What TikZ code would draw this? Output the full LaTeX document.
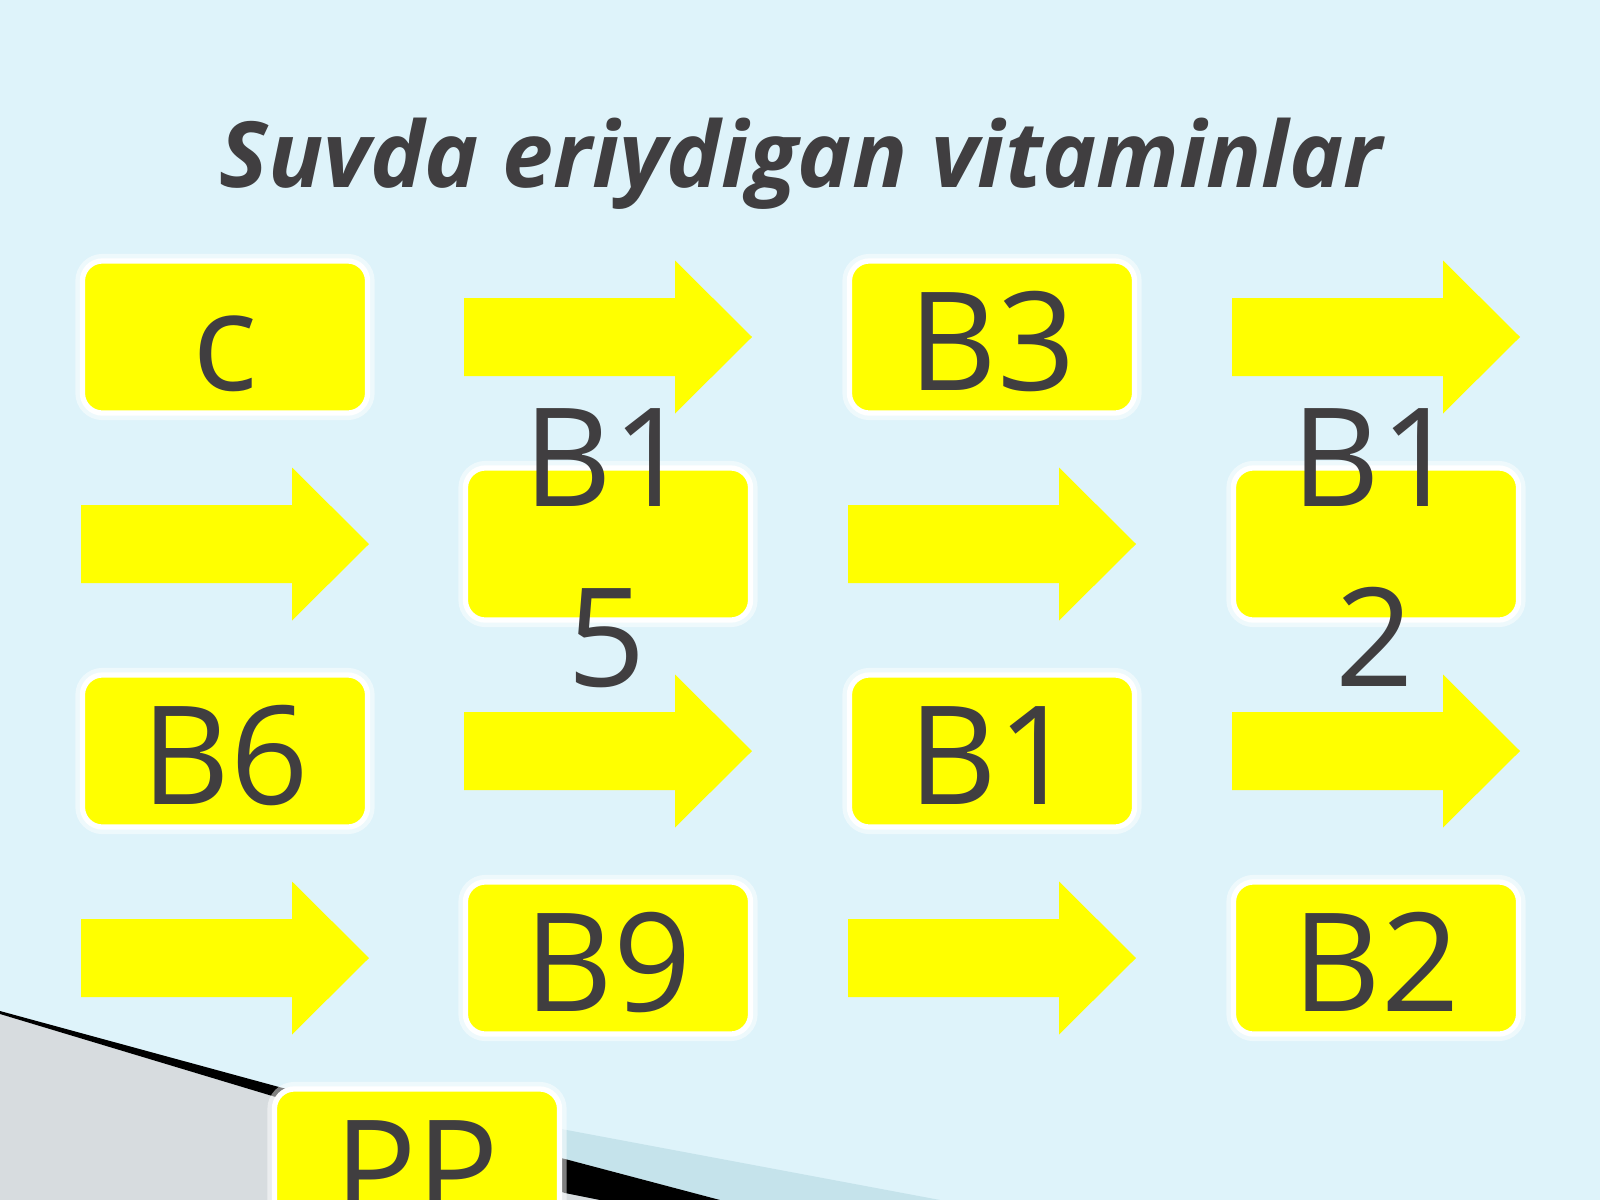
\documentclass[tikz,border=0pt]{standalone}
\usepackage{fontspec}
\setmainfont{Open Sans}
\definecolor{slidebg}{RGB}{222,243,250}
\definecolor{vtext}{RGB}{64,62,64}
\definecolor{vyellow}{RGB}{255,255,0}
\definecolor{bandblue}{RGB}{197,227,235}
\definecolor{panelgrey}{RGB}{215,220,223}

\begin{document}
\begin{tikzpicture}[x=0.01cm, y=-0.01cm,
    vbox/.style={rectangle, rounded corners=0.2cm, fill=vyellow, draw=white, line width=1.5pt,
      preaction={draw=white, opacity=0.5, line width=4pt},
      minimum width=2.85cm, minimum height=1.52cm, inner sep=0pt,
      text=vtext, font=\fontsize{39}{51}\selectfont, text height=1.06cm, text depth=0pt},
    vlabel/.style={inner sep=0pt, text=vtext, font=\fontsize{39}{51}\selectfont, align=center, anchor=base},
    yarrow/.pic={\fill[vyellow] (-144,-39) -- (67,-39) -- (67,-76.5) -- (144,0) -- (67,76.5) -- (67,39) -- (-144,39) -- cycle;}
]
    % Slide background
    \fill[slidebg] (0,0) rectangle (1600,1200);
    \useasboundingbox (0,0) rectangle (1600,1200);
    \fill[panelgrey] (0,1014) -- (279,1098) -- (565,1193) -- (600,1200) -- (0,1200) -- cycle;
    \fill[bandblue] (380,1095) -- (940,1200) -- (720,1200) -- (380,1110) -- cycle;
    \fill[black] (0,1011) -- (279,1087) -- (565,1159) -- (720,1200) -- (600,1200) -- (565,1193) -- (279,1098) -- (0,1014) -- cycle;

    % Title
    \node[font=\bfseries\itshape\fontsize{26}{32}\selectfont, text=vtext, anchor=base] (title) at (801,187) {Suvda eriydigan vitaminlar};

    % Arrows
    \foreach \x/\y in {608/337, 1376/337, 225/544, 992/544, 608/751, 1376/751, 225/958, 992/958}
        \pic at (\x,\y) {yarrow};

    % Vitamin boxes
    \node[vbox] (vc) at (225,337) {c};
    \node[vbox] (vbthree) at (992,337) {B3};
    \node[vbox] (vbfifteen) at (608,544) {};
    \node[vbox] (vbtwelve) at (1376,544) {};
    \node[vbox] (vbsix) at (225,751) {B6};
    \node[vbox] (vbone) at (992,751) {B1};
    \node[vbox] (vbnine) at (608,958) {B9};
    \node[vbox] (vbtwo) at (1376,958) {B2};
    \node[vbox] (vpp) at (417,1165) {PP};

    % Wrapped labels
    \node[vlabel] (lfifteen) at (607,686) {B1\\5};
    \node[vlabel] (ltwelve) at (1375,686) {B1\\2};
\end{tikzpicture}
\end{document}
